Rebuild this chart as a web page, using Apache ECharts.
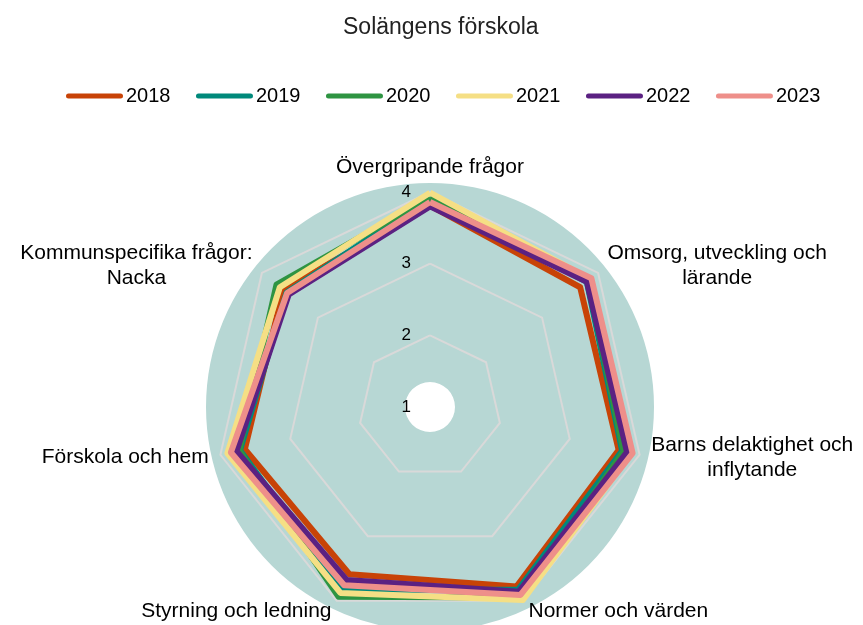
<!DOCTYPE html>
<html>
<head>
<meta charset="utf-8">
<title>Solängens förskola</title>
<script src="https://cdn.jsdelivr.net/npm/echarts@6/dist/echarts.min.js"></script>
<style>
  html, body { margin: 0; padding: 0; background: #fff; }
  #chart { width: 863px; height: 625px; }
</style>
</head>
<body>
<div id="chart"></div>
<script>
// Areas in clockwise order, starting at the top
const areas = [
  'Övergripande frågor',
  'Omsorg, utveckling och\nlärande',
  'Barns delaktighet och\ninflytande',
  'Normer och värden',
  'Styrning och ledning',
  'Förskola och hem',
  'Kommunspecifika frågor:\nNacka'
];
const years = ['2018', '2019', '2020', '2021', '2022', '2023'];
const colors = ['#C84307', '#00897B', '#2E9442', '#F5DF85', '#5B2182', '#EE8F8A'];

const v2018 = [3.81, 3.68, 3.70, 3.78, 3.59, 3.65, 3.62];
const v2019 = [3.91, 3.80, 3.75, 3.83, 3.83, 3.72, 3.56];
const v2020 = [3.92, 3.82, 3.77, 3.95, 3.94, 3.73, 3.74];
const v2021 = [3.99, 3.86, 3.88, 3.99, 3.88, 3.90, 3.68];
const v2022 = [3.80, 3.80, 3.82, 3.86, 3.68, 3.77, 3.52];
const v2023 = [3.86, 3.88, 3.90, 3.91, 3.76, 3.85, 3.55];
const values = [v2018, v2019, v2020, v2021, v2022, v2023];

const scaleMin = 1;
const scaleMax = 4;

// echarts lays radar axes out counter-clockwise, so flip the order
const order = [0, 6, 5, 4, 3, 2, 1];

const font = '"Liberation Sans", Arial, sans-serif';
const cx = 430, cy = 407, radius = 215;

const chart = echarts.init(document.getElementById('chart'));

const indicators = order.map((i, k) => ({
  name: areas[i],
  min: scaleMin,
  max: scaleMax,
  axisLabel: { show: k === 0 }
}));

const series = [
  {
    // teal disc behind the radar
    type: 'pie',
    silent: true,
    z: -1,
    center: [cx, cy],
    radius: [25, 224],
    label: { show: false },
    labelLine: { show: false },
    itemStyle: { color: '#B7D7D4' },
    data: [{ value: 1, name: 'bg' }],
    animation: false
  }
];
years.forEach((y, s) => {
  series.push({
    name: y,
    type: 'radar',
    symbol: 'none',
    color: colors[s],
    lineStyle: { width: 6, color: colors[s] },
    data: [{ value: order.map(i => values[s][i]), name: y }]
  });
});

const option = {
  backgroundColor: '#fff',
  animation: false,
  title: {
    text: 'Solängens förskola',
    left: 338,
    top: 11,
    textStyle: { fontFamily: font, fontSize: 23, fontWeight: 'normal', color: '#222' }
  },
  legend: {
    data: years,
    top: 81,
    left: 61,
    itemWidth: 57,
    itemHeight: 5,
    itemGap: 25.5,
    icon: 'path://M2.5,0 L54.5,0 A2.5,2.5 0 0 1 54.5,5 L2.5,5 A2.5,2.5 0 0 1 2.5,0 Z',
    textStyle: { fontFamily: font, fontSize: 20, color: '#000', padding: [0, 0, 0, -2] }
  },
  radar: {
    center: [cx, cy],
    radius: radius,
    startAngle: 90,
    shape: 'polygon',
    splitNumber: 3,
    nameGap: 12,
    axisName: {
      color: '#000',
      fontFamily: font,
      fontSize: 21,
      lineHeight: 25,
      formatter: function (name) {
        return name.split('\n').map(l => '{c|' + l + '}').join('\n');
      },
      rich: {
        c: { align: 'center', fontFamily: font, fontSize: 21, lineHeight: 25, color: '#000' }
      }
    },
    axisLine: { show: false },
    axisTick: { show: false },
    splitArea: { show: false },
    splitLine: { lineStyle: { color: '#D9D9D9', width: 2 } },
    axisLabel: {
      show: false,
      color: '#000',
      fontFamily: font,
      fontSize: 17,
      margin: 19,
      showMinLabel: true
    },
    indicator: indicators
  },
  series: series
};

chart.setOption(option);
</script>
</body>
</html>
